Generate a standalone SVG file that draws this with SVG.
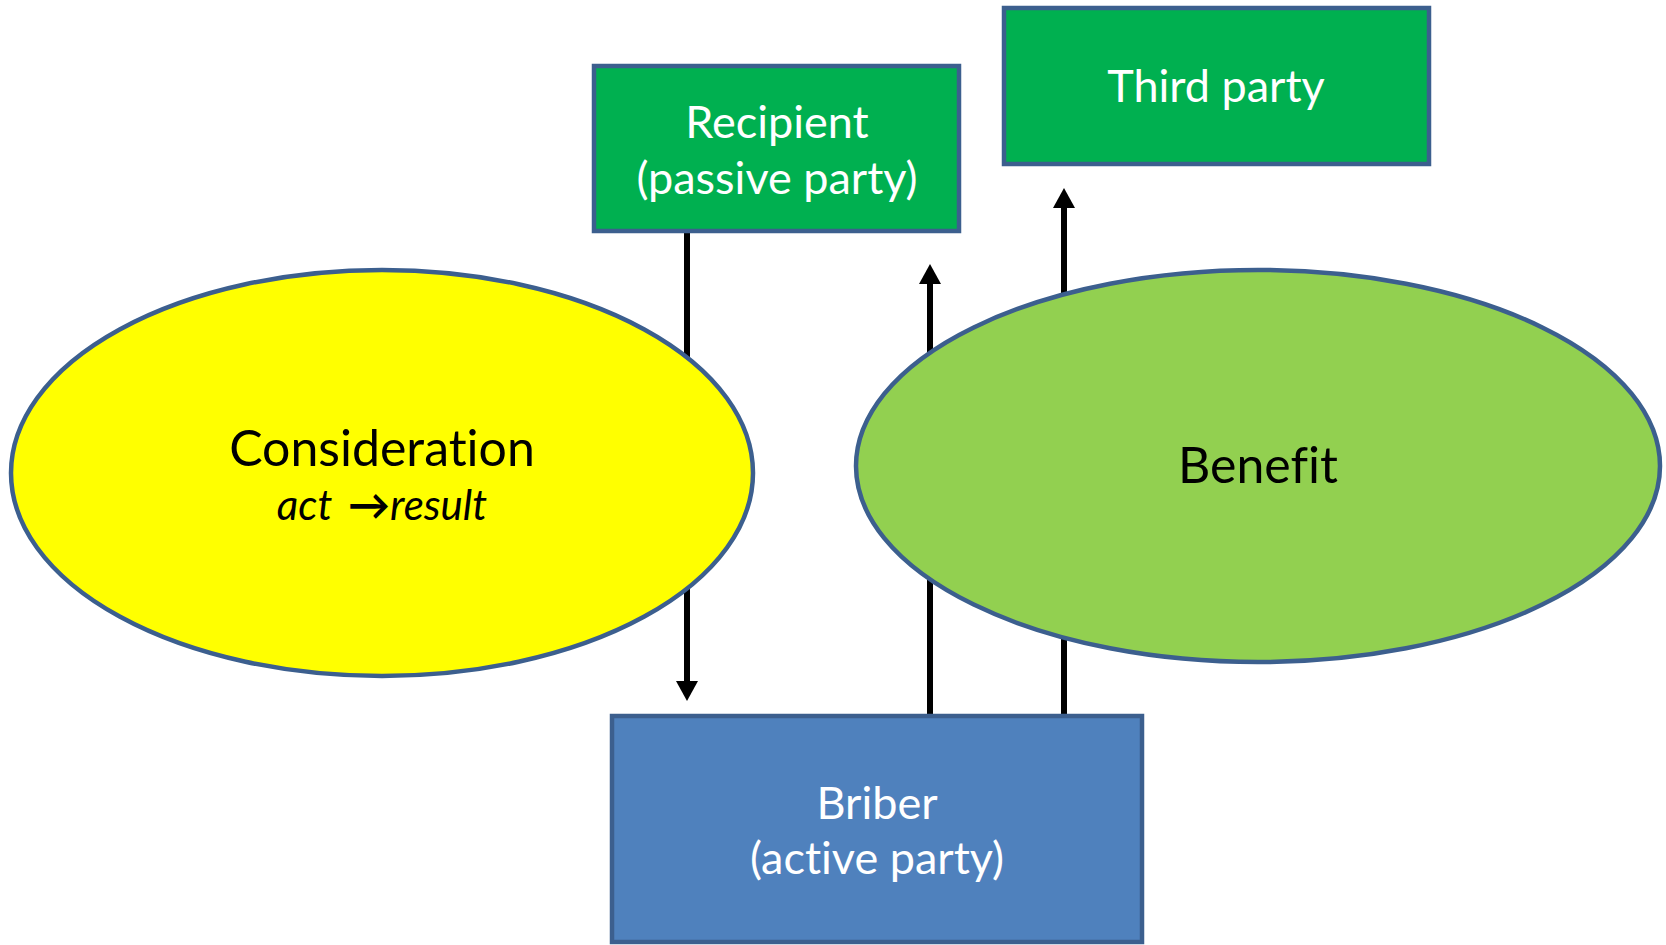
<svg xmlns="http://www.w3.org/2000/svg" width="1666" height="945" viewBox="0 0 1666 945">
<defs>
<style>
.box{stroke:#3C5F8E;stroke-width:4.5}
.ell{stroke:#3C5F8E;stroke-width:4.5}
.lbl{font-family:Lato,"Open Sans","Liberation Sans",sans-serif;text-anchor:middle;font-variant-ligatures:none;font-feature-settings:"liga" 0}
.w{fill:#FFFFFF;font-size:45px}
.k{fill:#000000;font-size:50px}
.sub{font-size:42px;font-style:italic}
.conn{stroke:#000;stroke-width:6;fill:none}
</style>
<marker id="ah" viewBox="0 0 20 22" refX="0" refY="11" markerWidth="20" markerHeight="22" markerUnits="userSpaceOnUse" orient="auto">
<path d="M0,0 L20,11 L0,22 z" fill="#000"/>
</marker>
</defs>
<rect width="1666" height="945" fill="#FFFFFF"/>
<g id="connectors">
<line class="conn" x1="687" y1="231" x2="687" y2="681" marker-end="url(#ah)"/>
<line class="conn" x1="930" y1="716" x2="930" y2="284" marker-end="url(#ah)"/>
<line class="conn" x1="1064" y1="716" x2="1064" y2="208" marker-end="url(#ah)"/>
</g>
<g id="recipient">
<rect class="box" x="594" y="66" width="365" height="165" fill="#00B050"/>
<text class="lbl w" x="777" y="138">Recipient</text>
<text class="lbl w" x="777" y="194">(passive party)</text>
</g>
<g id="third-party">
<rect class="box" x="1004" y="8" width="425" height="156" fill="#00B050"/>
<text class="lbl w" x="1216" y="102">Third party</text>
</g>
<g id="consideration">
<ellipse class="ell" cx="382" cy="473" rx="371" ry="203" fill="#FFFF00"/>
<text class="lbl k" x="382" y="466">Consideration</text>
<text class="lbl k sub" x="382" y="520">act <tspan dx="6" font-style="normal" font-weight="bold">→</tspan>result</text>
</g>
<g id="benefit">
<ellipse class="ell" cx="1258" cy="466" rx="402" ry="196" fill="#92D050"/>
<text class="lbl k" x="1258" y="483">Benefit</text>
</g>
<g id="briber">
<rect class="box" x="612" y="716" width="530" height="226" fill="#4F81BD"/>
<text class="lbl w" x="877" y="819">Briber</text>
<text class="lbl w" x="877" y="874">(active party)</text>
</g>
</svg>
